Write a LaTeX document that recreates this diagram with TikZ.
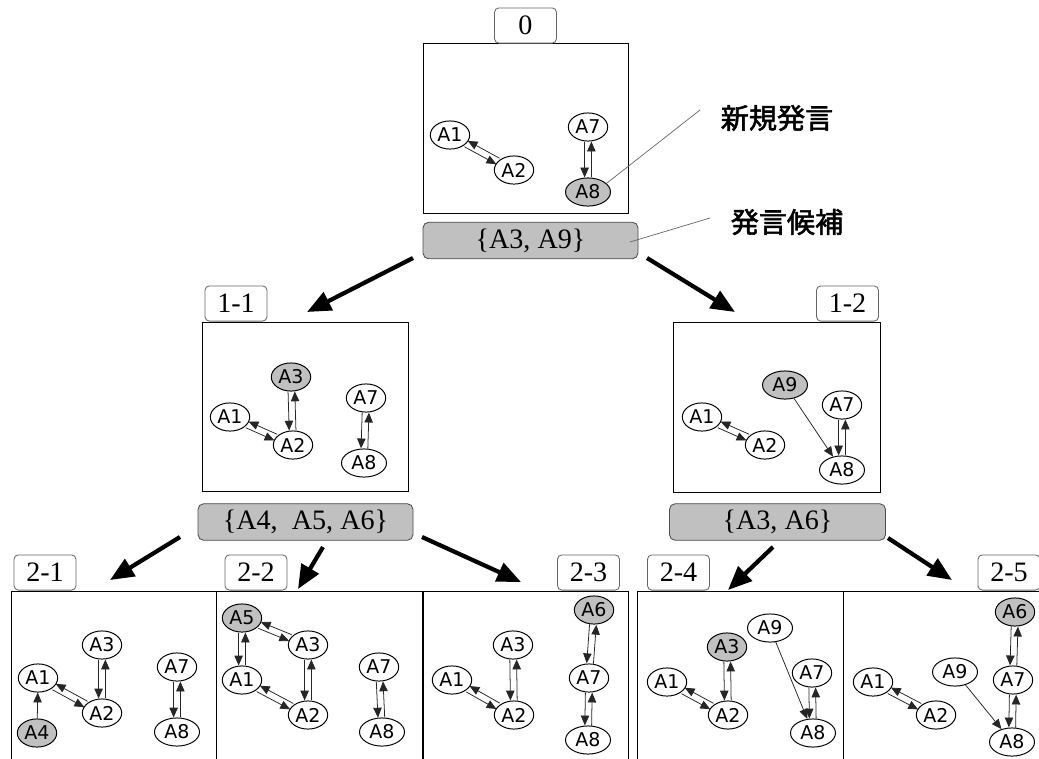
\documentclass[tikz,border=0pt]{standalone}
\usepackage{fontspec}
\setmainfont{Liberation Serif}
\setsansfont{DejaVu Sans}
\newfontfamily\cjk[FakeBold=2]{Noto Sans CJK JP}
\usetikzlibrary{shapes.geometric, arrows.meta, calc}

\definecolor{shade}{RGB}{192,192,192}

% two arrows side by side, one each way
\newcommand{\twoway}[2]{%
  \path (#1) -- (#2) coordinate[pos=0] (tw-s) coordinate[pos=1] (tw-e);
  \draw[link] ($(tw-s)!2.4pt!-90:(tw-e)$) -- ($(tw-e)!2.4pt!90:(tw-s)$);
  \draw[link] ($(tw-e)!2.4pt!-90:(tw-s)$) -- ($(tw-s)!2.4pt!90:(tw-e)$);
}

\begin{document}
\begin{tikzpicture}[x=0.025cm, y=-0.025cm,
    agent/.style={ellipse, draw, fill=white, line width=0.7pt, inner sep=0pt,
      minimum width=28pt, minimum height=20pt,
      font=\sffamily\fontsize{13.5}{13.5}\selectfont},
    wide/.style={minimum width=32pt},
    said/.style={fill=shade},
    link/.style={draw=black!85, line width=0.55pt,
      -{Triangle[length=7pt,width=6pt]}},
    panel/.style 2 args={draw, line width=0.7pt, inner sep=0pt,
      minimum width=#1*0.025cm, minimum height=#2*0.025cm},
    tag/.style={draw=black!60, fill=white, rounded corners=3pt, line width=0.6pt,
      inner sep=0pt, minimum width=44pt, minimum height=25pt,
      font=\fontsize{20}{20}\selectfont},
    cands/.style={draw=black!70, fill=shade, rounded corners=4pt, line width=0.6pt,
      inner sep=0pt, minimum width=#1*0.025cm, minimum height=26pt,
      font=\fontsize{20}{20}\selectfont},
    branch/.style={line width=3pt, -{Triangle[length=17pt,width=14pt]}},
    callout/.style={draw=black!60, line width=0.5pt},
    note/.style={font=\cjk\fontsize{20}{20}\selectfont}
  ]
  \useasboundingbox (0,0) rectangle (1039,758);
  \clip (0,0) rectangle (1039,758);

  % panels
  \node[panel={205}{170}] (box0)  at (525.5,128)   {};
  \node[panel={206}{169}] (box11) at (305,406.5)   {};
  \node[panel={207}{170}] (box12) at (776.5,407)   {};
  \node[panel={205}{209}] (box21) at (113.5,695.5) {};
  \node[panel={206}{209}] (box22) at (319,695.5)   {};
  \node[panel={205}{209}] (box23) at (525.5,695.5) {};
  \node[panel={206}{209}] (box24) at (740,695.5)   {};
  \node[panel={205}{209}] (box25) at (945.5,695.5) {};

  \node[tag] (tag0)  at (525.5,25.5)  {0};
  \node[tag] (tag11) at (236,303.5)   {1-1};
  \node[tag] (tag12) at (847.5,303.5) {1-2};
  \node[tag] (tag21) at (45,572.5)    {2-1};
  \node[tag] (tag22) at (256,572.5)   {2-2};
  \node[tag] (tag23) at (588.5,572.5) {2-3};
  \node[tag] (tag24) at (678.5,572.5) {2-4};
  \node[tag] (tag25) at (1009,572.5)  {2-5};

  \node[cands=215] (cand0)  at (530.5,240.5) {\{A3, A9\}};
  \node[cands=215] (cand11) at (305.5,522)   {\{A4,\ \ A5, A6\}};
  \node[cands=216] (cand12) at (777.5,522)   {\{A3, A6\}};

  % branches
  \coordinate (t0l)  at (413,258);
  \coordinate (h11)  at (307,312);
  \coordinate (t0r)  at (647,258);
  \coordinate (h12)  at (735,312);
  \coordinate (t11a) at (180,537);
  \coordinate (h21)  at (110,580);
  \coordinate (t11b) at (323,547);
  \coordinate (h22)  at (298,589);
  \coordinate (t11c) at (422,537);
  \coordinate (h23)  at (521,582);
  \coordinate (t12a) at (773,547);
  \coordinate (h24)  at (728,590);
  \coordinate (t12b) at (888,538);
  \coordinate (h25)  at (952,580);
  \draw[branch] (t0l)  -- (h11);
  \draw[branch] (t0r)  -- (h12);
  \draw[branch] (t11a) -- (h21);
  \draw[branch] (t11b) -- (h22);
  \draw[branch] (t11c) -- (h23);
  \draw[branch] (t12a) -- (h24);
  \draw[branch] (t12b) -- (h25);

  % panel 0
  \node[agent] (s0A1) at (450,135) {A1};
  \node[agent] (s0A2) at (514,170) {A2};
  \node[agent] (s0A7) at (588,127) {A7};
  \node[agent, wide, said] (s0A8) at (588,192) {A8};
  \twoway{s0A1}{s0A2}
  \twoway{s0A7}{s0A8}

  % panel 1-1
  \node[agent, said] (s11A3) at (291,377) {A3};
  \node[agent] (s11A1) at (230,417) {A1};
  \node[agent] (s11A2) at (293,445) {A2};
  \node[agent] (s11A7) at (366,398) {A7};
  \node[agent, wide] (s11A8) at (364,463) {A8};
  \twoway{s11A1}{s11A2}
  \twoway{s11A3}{s11A2}
  \twoway{s11A7}{s11A8}

  % panel 1-2
  \node[agent, wide, said] (s12A9) at (785,385) {A9};
  \node[agent] (s12A7) at (842,405) {A7};
  \node[agent] (s12A1) at (702,417) {A1};
  \node[agent] (s12A2) at (765,445) {A2};
  \node[agent, wide] (s12A8) at (842,470) {A8};
  \twoway{s12A1}{s12A2}
  \twoway{s12A7}{s12A8}
  \draw[link] (s12A9) -- (s12A8);

  % panel 2-1
  \node[agent] (s21A3) at (102,645) {A3};
  \node[agent] (s21A1) at (38,678)  {A1};
  \node[agent] (s21A2) at (102,713) {A2};
  \node[agent] (s21A7) at (177,667) {A7};
  \node[agent, wide] (s21A8) at (177,732) {A8};
  \node[agent, said] (s21A4) at (37,733) {A4};
  \twoway{s21A1}{s21A2}
  \twoway{s21A3}{s21A2}
  \twoway{s21A7}{s21A8}
  \draw[link] (s21A4) -- (s21A1);

  % panel 2-2
  \node[agent, said] (s22A5) at (242,618) {A5};
  \node[agent] (s22A3) at (308,645) {A3};
  \node[agent] (s22A1) at (242,680) {A1};
  \node[agent] (s22A2) at (308,715) {A2};
  \node[agent] (s22A7) at (379,667) {A7};
  \node[agent, wide] (s22A8) at (382,732) {A8};
  \twoway{s22A5}{s22A1}
  \twoway{s22A5}{s22A3}
  \twoway{s22A1}{s22A2}
  \twoway{s22A3}{s22A2}
  \twoway{s22A7}{s22A8}

  % panel 2-3
  \node[agent, said] (s23A6) at (594,610) {A6};
  \node[agent] (s23A3) at (513,645) {A3};
  \node[agent] (s23A1) at (452,680) {A1};
  \node[agent] (s23A2) at (514,715) {A2};
  \node[agent] (s23A7) at (589,678) {A7};
  \node[agent, wide] (s23A8) at (588,740) {A8};
  \twoway{s23A6}{s23A7}
  \twoway{s23A7}{s23A8}
  \twoway{s23A3}{s23A2}
  \twoway{s23A1}{s23A2}

  % panel 2-4
  \node[agent, wide] (s24A9) at (770,628) {A9};
  \node[agent, said] (s24A3) at (727,647) {A3};
  \node[agent] (s24A1) at (667,682) {A1};
  \node[agent] (s24A2) at (728,715) {A2};
  \node[agent] (s24A7) at (812,673) {A7};
  \node[agent, wide] (s24A8) at (813,733) {A8};
  \twoway{s24A3}{s24A2}
  \twoway{s24A1}{s24A2}
  \twoway{s24A7}{s24A8}
  \draw[link] (s24A9) -- (s24A8);

  % panel 2-5
  \node[agent, said] (s25A6) at (1015,612) {A6};
  \node[agent] (s25A1) at (873,682) {A1};
  \node[agent] (s25A2) at (936,715) {A2};
  \node[agent, wide] (s25A9) at (955,672) {A9};
  \node[agent] (s25A7) at (1013,680) {A7};
  \node[agent, wide] (s25A8) at (1012,742) {A8};
  \twoway{s25A6}{s25A7}
  \twoway{s25A7}{s25A8}
  \twoway{s25A1}{s25A2}
  \draw[link] (s25A9) -- (s25A8);

  % notes
  \node[note] (newnote)  at (777,118) {新規発言};
  \node[note] (candnote) at (787,222) {発言候補};
  \coordinate (newend)  at (700,110);
  \coordinate (candin)  at (630,242);
  \coordinate (candend) at (710,218);
  \draw[callout] (s0A8.25) -- (newend);
  \draw[callout] (candin) -- (candend);
\end{tikzpicture}
\end{document}
